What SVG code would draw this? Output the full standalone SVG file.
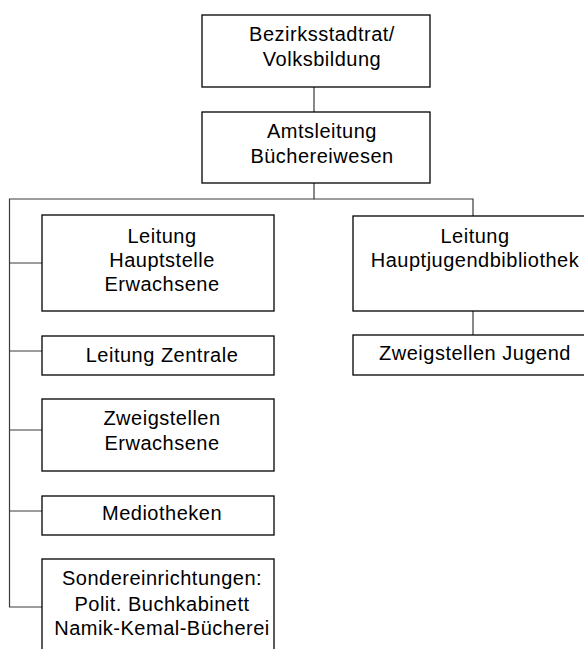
<svg xmlns="http://www.w3.org/2000/svg" width="584" height="649" viewBox="0 0 584 649">
<style>
.box{fill:#fff;stroke:#000;stroke-width:1.3}
.t{font-family:"Liberation Sans",Arial,sans-serif;font-size:20px;letter-spacing:0.5px;fill:#000;text-anchor:middle}
.c{fill:none;stroke:#3a3a3a;stroke-width:1.2}
</style>
<rect width="584" height="649" fill="#fff"/>
<g id="connectors">
<line class="c" x1="314" y1="87" x2="314" y2="112"/>
<polyline class="c" points="314,183 314,199 9.5,199 9.5,607 42,607"/>
<polyline class="c" points="314,199 473,199 473,216"/>
<line class="c" x1="9.5" y1="263" x2="42" y2="263"/>
<line class="c" x1="9.5" y1="351" x2="42" y2="351"/>
<line class="c" x1="9.5" y1="430" x2="42" y2="430"/>
<line class="c" x1="9.5" y1="511" x2="42" y2="511"/>
<line class="c" x1="473" y1="311" x2="473" y2="335"/>
</g>
<g id="n1"><rect class="box" x="202" y="15" width="228" height="72"/>
<text class="t" x="322" y="41">Bezirksstadtrat/</text><text class="t" x="322" y="66">Volksbildung</text></g>
<g id="n2"><rect class="box" x="202" y="112" width="228" height="71"/>
<text class="t" x="322" y="138">Amtsleitung</text><text class="t" x="322" y="163">Büchereiwesen</text></g>
<g id="n3"><rect class="box" x="42" y="215" width="232" height="96"/>
<text class="t" x="162" y="243">Leitung</text><text class="t" x="162" y="267">Hauptstelle</text><text class="t" x="162" y="291">Erwachsene</text></g>
<g id="n4"><rect class="box" x="42" y="336" width="232" height="39"/>
<text class="t" x="162" y="362">Leitung Zentrale</text></g>
<g id="n5"><rect class="box" x="42" y="399" width="232" height="72"/>
<text class="t" x="162" y="425">Zweigstellen</text><text class="t" x="162" y="450">Erwachsene</text></g>
<g id="n6"><rect class="box" x="42" y="496" width="232" height="39"/>
<text class="t" x="162" y="520">Mediotheken</text></g>
<g id="n7"><rect class="box" x="42" y="559" width="232" height="100"/>
<text class="t" x="162" y="585">Sondereinrichtungen:</text><text class="t" x="162" y="611">Polit. Buchkabinett</text><text class="t" x="162" y="635">Namik-Kemal-Bücherei</text></g>
<g id="n8"><rect class="box" x="353" y="216" width="245" height="95"/>
<text class="t" x="475" y="243">Leitung</text><text class="t" x="475" y="267">Hauptjugendbibliothek</text></g>
<g id="n9"><rect class="box" x="353" y="335" width="245" height="40"/>
<text class="t" x="475" y="360">Zweigstellen Jugend</text></g>
</svg>
